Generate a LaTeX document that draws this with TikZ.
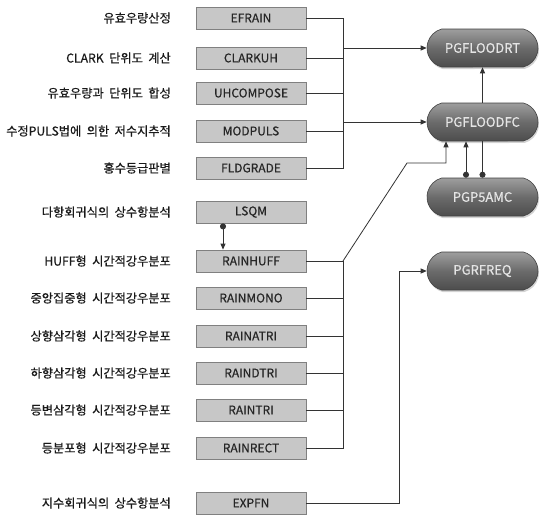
\documentclass[tikz,border=0pt]{standalone}
\usepackage{fontspec}
\setmainfont{Noto Sans CJK KR}[FakeBold=0.5]
\usetikzlibrary{arrows.meta,shapes.misc,shadows}
\newcommand{\labfnt}{\fontsize{12.2}{13}\selectfont\spaceskip=0.45em\relax}
\begin{document}
\begin{tikzpicture}[x=1pt,y=-1pt,
  boxn/.style={draw=black!50,fill=black!22,line width=0.8pt,minimum width=110pt,minimum height=22pt,inner sep=0pt,font=\fontsize{12}{12}\selectfont,text=black!85},
  labn/.style={anchor=east,inner sep=0pt,font=\labfnt,text=black!90},
  pill/.style={rounded rectangle,rounded rectangle arc length=150,draw=black!75,line width=0.6pt,minimum width=111pt,minimum height=38pt,inner sep=0pt,
    top color=black!38,bottom color=black!70,middle color=black!58,
    text=black!10,font=\fontsize{13}{13}\selectfont,
    drop shadow={opacity=0.35,shadow xshift=1pt,shadow yshift=-2pt}},
  conn/.style={draw=black!80,line width=0.8pt},
  arr/.style={conn,-{Triangle[length=6pt,width=5pt]}},
  dotarr/.style={conn,{Circle[length=6pt]}-{Triangle[length=6pt,width=5pt]}},
  dotline/.style={conn,{Circle[length=6pt]}-}
]
\useasboundingbox (0,0) rectangle (543,514);

% gray boxes
\node[boxn] (efrain) at (251,18) {EFRAIN};
\node[boxn] (clarkuh) at (251,58) {CLARKUH};
\node[boxn] (uhcomp) at (251,93) {UHCOMPOSE};
\node[boxn] (modpuls) at (251,131) {MODPULS};
\node[boxn] (fldgrade) at (251,168) {FLDGRADE};
\node[boxn] (lsqm) at (251,212) {LSQM};
\node[boxn] (rainhuff) at (251,261) {RAINHUFF};
\node[boxn] (rainmono) at (251,298) {RAINMONO};
\node[boxn] (rainatri) at (251,336) {RAINATRI};
\node[boxn] (raindtri) at (251,373) {RAINDTRI};
\node[boxn] (raintri) at (251,410) {RAINTRI};
\node[boxn] (rainrect) at (251,448) {RAINRECT};
\node[boxn] (expfn) at (251,503) {EXPFN};

% labels
\node[labn] (l1) at (171,18) {유효우량산정};
\node[labn] (l2) at (171,58) {CLARK 단위도 계산};
\node[labn] (l3) at (171,93) {유효우량과 단위도 합성};
\node[labn] (l4) at (171,131) {수정PULS법에 의한 저수지추적};
\node[labn] (l5) at (171,168) {홍수등급판별};
\node[labn] (l6) at (171,212) {다항회귀식의 상수항분석};
\node[labn] (l7) at (171,261) {HUFF형 시간적강우분포};
\node[labn] (l8) at (171,298) {중앙집중형 시간적강우분포};
\node[labn] (l9) at (171,336) {상향삼각형 시간적강우분포};
\node[labn] (l10) at (171,373) {하향삼각형 시간적강우분포};
\node[labn] (l11) at (171,410) {등변삼각형 시간적강우분포};
\node[labn] (l12) at (171,448) {등분포형 시간적강우분포};
\node[labn] (l13) at (171,503) {지수회귀식의 상수항분석};

% pills
\node[pill] (rt) at (482.5,48) {PGFLOODRT};
\node[pill] (fc) at (482.5,122) {PGFLOODFC};
\node[pill] (p5) at (482.5,197) {PGP5AMC};
\node[pill] (rfreq) at (482.5,271) {PGRFREQ};

% bus coordinates
\coordinate (bus) at (343,0);
\coordinate (kink) at (407,163);
\coordinate (upx) at (446,163);
\coordinate (ex) at (399,0);

% bus 1
\draw[conn] (efrain.east) -- (efrain.east -| bus) -- (fldgrade.east -| bus) -- (fldgrade.east);
\draw[conn] (clarkuh.east) -- (clarkuh.east -| bus);
\draw[conn] (uhcomp.east) -- (uhcomp.east -| bus);
\draw[conn] (modpuls.east) -- (modpuls.east -| bus);
\draw[arr] (rt.west -| bus) -- (rt.west);
\draw[arr] (fc.west -| bus) -- (fc.west);

% bus 2
\draw[conn] (rainrect.east) -- (rainrect.east -| bus) -- (rainhuff.east -| bus) -- (rainhuff.east);
\draw[conn] (rainmono.east) -- (rainmono.east -| bus);
\draw[conn] (rainatri.east) -- (rainatri.east -| bus);
\draw[conn] (raindtri.east) -- (raindtri.east -| bus);
\draw[conn] (raintri.east) -- (raintri.east -| bus);
\draw[arr] (rainhuff.east -| bus) -- (kink) -- (upx) -- (upx |- fc.south);

% vertical links
\draw[arr] (fc.north) -- (rt.south);
\draw[dotarr] (466,0 |- p5.north) -- (466,0 |- fc.south);
\draw[dotline] (p5.north) -- (fc.south);
\draw[dotarr] (223,0 |- lsqm.south) -- (223,0 |- rainhuff.north);

% EXPFN
\draw[arr] (expfn.east) -- (expfn.east -| ex) |- (rfreq.west);
\end{tikzpicture}
\end{document}
